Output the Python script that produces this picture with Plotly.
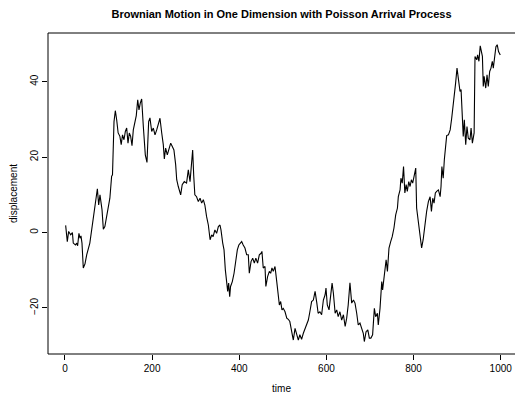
import plotly.graph_objects as go

time = [1.5, 5.3, 8.4, 13, 17, 19, 24, 26.8, 29, 32, 34.4, 36.7, 39, 42, 45.9, 49.8, 57, 63.5, 67.3, 70.4,
        74.3, 77.3, 80.3, 85, 88, 91.5, 95.7, 99.4, 103, 107, 109, 112.5, 115.5, 118.6, 122, 126, 129, 132,
        135.4, 138.5, 141.6, 144.6, 147.6, 150.7, 153.8, 156.8, 160.7, 163.6, 166.9, 169.8, 172.8, 176,
        179.8, 184.3, 188.2, 192,
        195, 199, 202.7, 206.6, 210.5, 214, 218, 222, 225.6, 228, 231, 234.8, 238.7, 242.6, 246.3, 250, 254,
        256.4, 260, 265.5, 269, 273.8, 279, 283, 287, 290, 293, 295.5, 298, 302, 306, 310, 313.7, 317.5, 321,
        325, 329, 333, 336.7, 340, 344, 348, 352, 355.7, 358, 362, 365, 368, 371, 373.4, 375.6, 378, 380, 384,
        388, 391.8, 395.5, 399,
        405.5, 409, 413, 417, 420.7, 423, 427, 430.8, 434.5, 438, 442, 446, 450, 452, 455, 459, 461, 465, 469,
        472, 475, 478, 482, 486, 489.6, 492, 495, 498, 501, 505, 509, 512.5, 516, 520, 524, 528, 532, 535.5,
        539, 543, 547, 551, 555, 558.5, 562, 566, 570, 574, 578, 581, 585, 589, 593, 597, 599, 602, 606,
        610, 613, 616, 620, 623.6, 627, 631, 635, 639, 643, 646.5, 650, 654, 658, 662, 665.6, 669.5, 673, 677,
        681, 684.6, 687, 691, 695, 698.5, 702, 706, 710, 713, 717, 719, 723, 727, 729, 732, 734.5, 737, 740,
        743.6, 747.5, 751, 755, 759, 763, 765, 769, 771, 774, 777, 780, 783, 785.6, 789, 792, 795, 798, 801,
        805, 807, 811, 815, 818.5, 822,
        826, 830, 834, 838, 841, 844, 847, 850, 853, 857, 861, 863, 865, 868, 870.6, 874, 876, 880, 884, 887.5,
        891, 893.5, 896.5, 899.7, 902.6, 906.6, 909, 911, 914, 916.5, 919.7, 922.6, 925.6, 929.5, 932, 935,
        939, 941, 945, 947, 950, 953, 955.6, 958, 960, 962, 965.6, 968.6, 971.5, 974.7, 977.7, 980.7, 983,
        986, 989, 992, 995, 999]

displacement = [1.9, -2.4, 0.3, -0.6, 0.0, -2.8, -3.3, -2.8, -3.5, -0.2, -1.5, -0.9, -2.8, -9.4, -8.3, -5.9,
                -2.8, 2.5, 5.1, 7.8, 11.6, 7.3, 10.0, 6.0, 0.9, 1.6, 4.2, 6.0, 9.1, 14.9, 15.3, 29.4, 32.3,
                29.9, 26.4, 25.5, 23.3, 25.9, 24.6, 26.8, 27.7, 23.7, 26.4, 25.5, 23.0, 27.2, 29.9, 31.0, 35.2,
                32.5, 34.3, 35.4, 28.1, 20.6, 18.6, 29.4,
                30.4, 26.8, 27.7, 25.9, 27.2, 29.0, 30.3, 26.4, 23.3, 19.5, 22.4, 20.6, 21.9, 23.7, 22.8, 21.9,
                18.0, 14.0, 12.2, 10.0, 12.7, 13.5, 13.1, 16.6, 13.5, 17.1, 21.9, 14.9, 10.0, 9.5, 8.2, 9.1,
                7.8, 8.7, 7.3, 4.2, 2.0, -1.9, -0.6, -1.1, 0.7, -0.2, 1.6, 2.0, 0.7, -2.8, -4.6, -9.9, -13.0,
                -15.6, -13.4, -17.0, -14.3, -13.0, -10.8, -6.8, -4.6, -3.3,
                -2.4, -3.3, -4.1, -5.9, -5.9, -10.8, -7.7, -6.8, -8.1, -6.8, -8.1, -5.9, -5.5, -5.0, -9.4, -9.0,
                -14.3, -11.7, -10.3, -10.8, -9.4, -10.3, -9.0, -13.0, -17.0, -19.2, -18.3, -20.5, -20.1, -21.0,
                -22.7, -23.0, -23.6, -25.8, -28.5, -25.4, -27.1, -28.5, -27.1, -28.3, -26.7, -25.4, -24.0,
                -23.2, -21.0, -18.3, -17.9, -15.6, -18.7, -21.4, -21.0, -21.8, -17.9, -16.5, -14.7, -19.2, -20.5,
                -15.6, -13.4, -16.1, -21.4, -20.5, -22.3, -21.0, -23.2, -21.8, -24.9, -22.7, -19.2, -13.3, -18.7,
                -17.9, -18.7, -21.4, -24.5, -24.0, -25.8, -26.7, -28.9, -26.3, -25.8, -28.0, -28.0, -27.1,
                -20.1, -22.3, -21.4, -24.5, -20.1, -13.0, -15.2, -11.7, -10.3, -7.2, -10.3, -4.1, -2.4, -1.1,
                1.2, 4.7, 6.5, 9.5, 11.3, 14.4, 13.1, 17.5, 10.5, 12.7, 10.9, 13.5, 12.2, 14.0, 13.1, 14.9,
                17.1, 6.5, 2.5, -1.1, -4.1, -1.9,
                2.5, 5.6, 8.2, 9.5, 5.6, 9.1, 7.8, 10.5, 10.9, 11.3, 9.5, 12.2, 17.5, 14.4, 19.3, 24.6, 25.7,
                25.9, 27.2, 30.3, 33.4, 36.1, 39.6, 43.6, 41.4, 37.4, 37.9, 31.7, 25.5, 29.9, 23.3, 28.1, 25.0,
                24.6, 27.7, 23.7, 26.4, 46.7, 45.8, 47.1, 45.4, 49.5, 47.6, 46.7, 38.7, 41.4, 38.3, 41.8, 38.7,
                42.7, 43.6, 45.4, 43.6, 46.7, 49.3, 49.8, 48.0, 47.1]

x_ticks = [0, 200, 400, 600, 800, 1000]
y_ticks = [-20, 0, 20, 40]

FONT = "Liberation Sans, Arial, Helvetica, sans-serif"

fig = go.Figure(go.Scatter(x=time, y=displacement, mode="lines",
                           line=dict(color="black", width=1.1), hoverinfo="skip"))

fig.update_layout(
    width=515, height=394,
    margin=dict(l=48, r=0, t=33, b=40),
    paper_bgcolor="white", plot_bgcolor="white",
    showlegend=False,
    font=dict(family=FONT, size=10, color="black"),
    title=dict(text="Brownian Motion in One Dimension with Poisson Arrival Process",
               font=dict(family=FONT, size=11, color="black", weight="bold"),
               x=0.5, xref="paper", xanchor="center", y=1 - 14 / 394, yanchor="middle"),
    xaxis=dict(range=[-39, 1032.8], tickvals=x_ticks, ticks="outside", ticklen=5,
               tickwidth=1, tickcolor="black", showgrid=False, zeroline=False, showline=False,
               tickfont=dict(size=10),
               automargin=False, title=dict(text="time", standoff=11, font=dict(size=10))),
    yaxis=dict(range=[-32.2, 52.9], tickvals=y_ticks, ticks="outside", ticklen=5,
               tickwidth=1, tickcolor="black", showgrid=False, zeroline=False, showline=False,
               tickfont=dict(size=10),
               tickangle=-90, automargin=False,
               title=dict(text="displacement", standoff=9, font=dict(size=10))),
    shapes=[
        dict(type="line", xref="paper", yref="paper", x0=0, x1=0, y0=0, y1=1,
             line=dict(color="black", width=1)),
        dict(type="line", xref="paper", yref="paper", x0=0, x1=1, y0=1, y1=1,
             line=dict(color="black", width=1)),
        dict(type="line", xref="paper", yref="paper", x0=0, x1=1, y0=0, y1=0,
             line=dict(color="black", width=1)),
    ],
)

fig.write_html("out.html")
